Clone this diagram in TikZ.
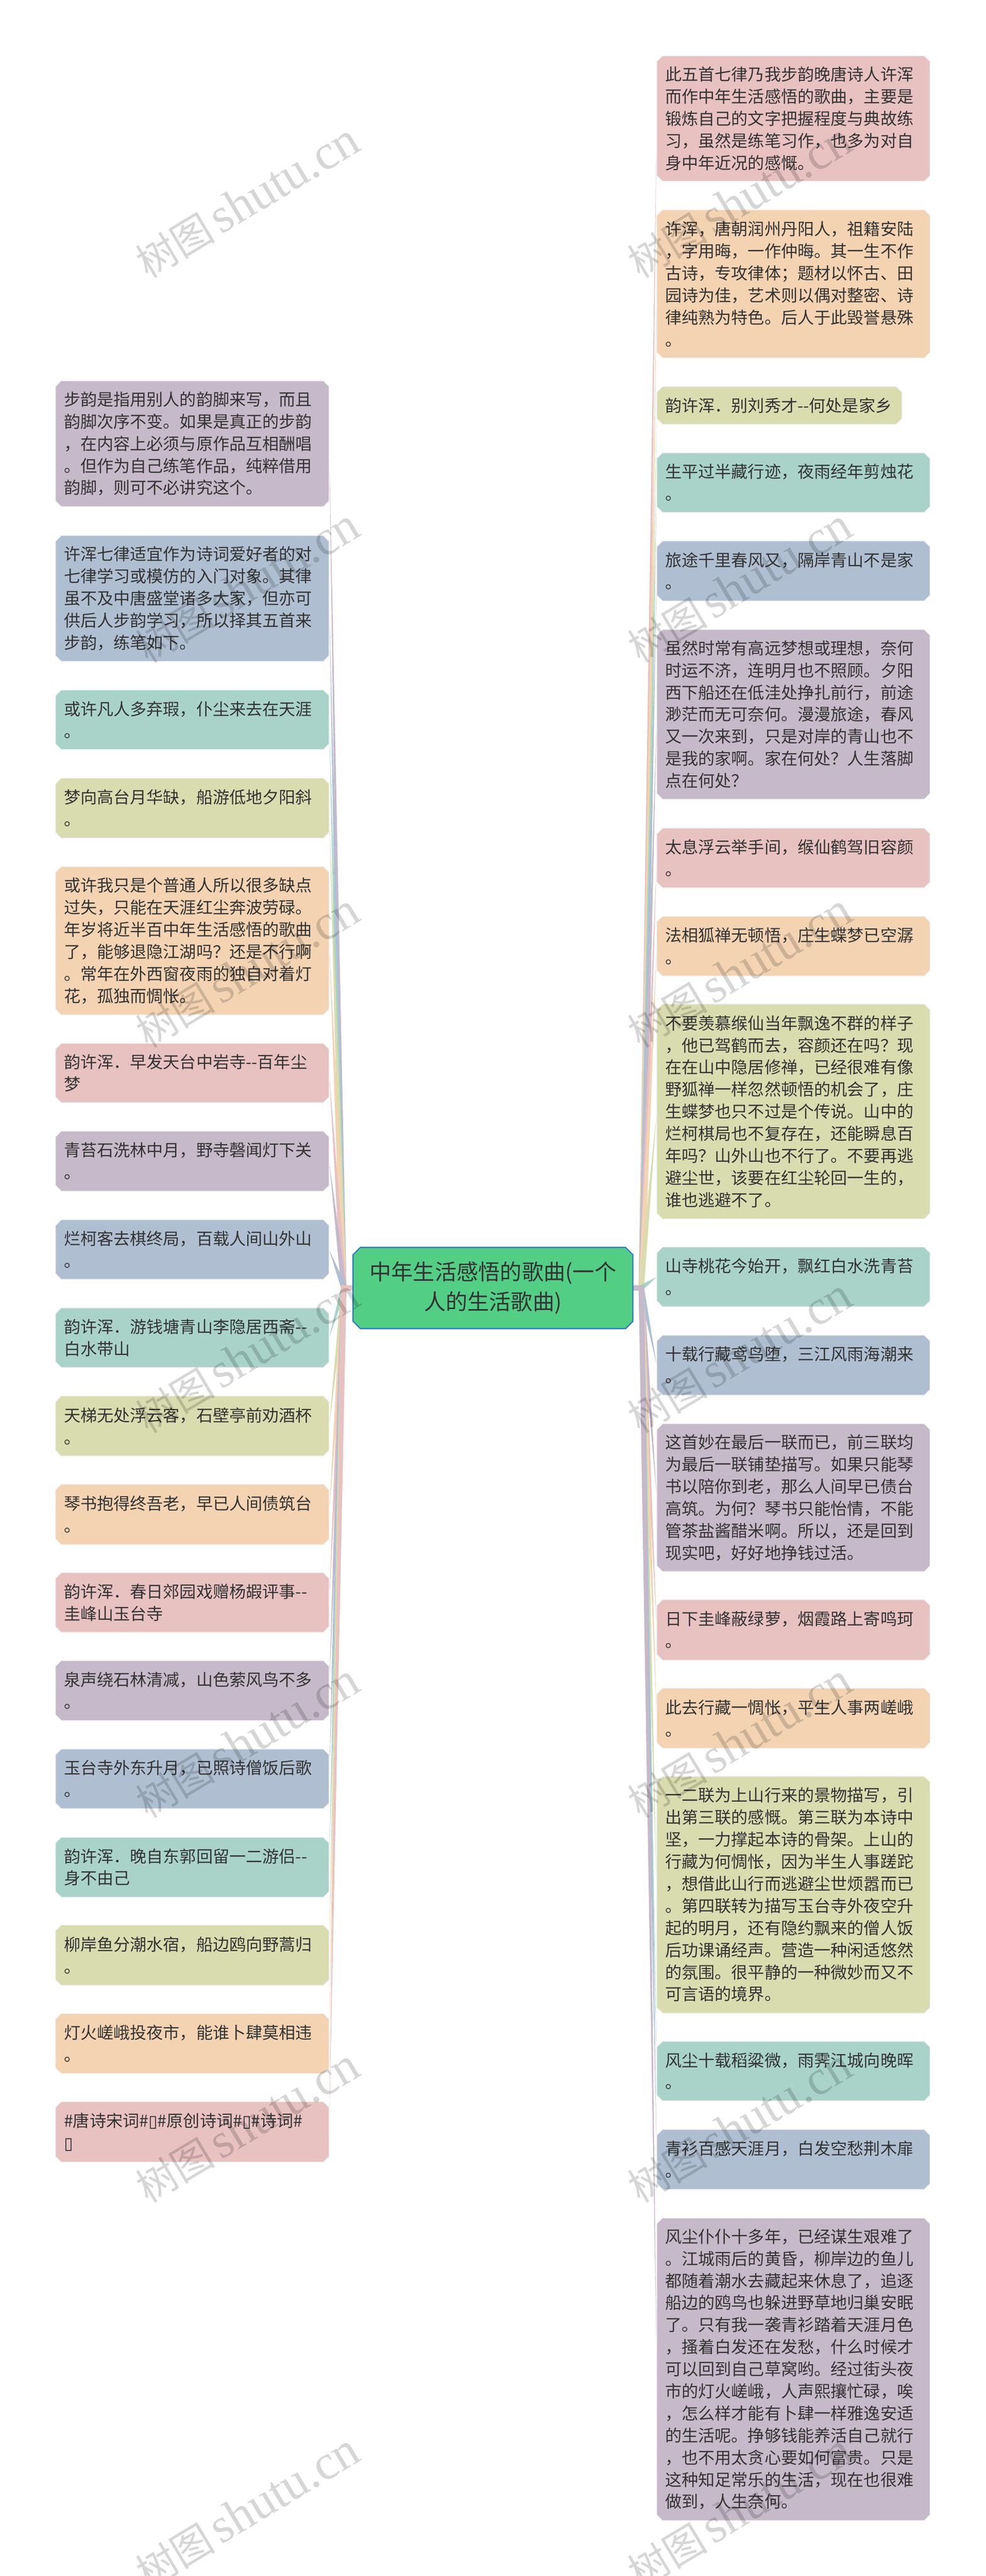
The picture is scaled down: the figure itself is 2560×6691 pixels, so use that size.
\documentclass[tikz,border=0pt]{standalone}
\usepackage{fontspec}
\usetikzlibrary{calc}
\setmainfont{Noto Sans CJK SC}
\newfontfamily\wmserif{Liberation Serif}
\newfontfamily\tofufont{DejaVu Sans}
\definecolor{cpink}{RGB}{232,193,193}
\definecolor{cpeach}{RGB}{243,211,178}
\definecolor{colive}{RGB}{217,220,175}
\definecolor{cteal}{RGB}{169,211,201}
\definecolor{cblue}{RGB}{175,191,209}
\definecolor{cpurple}{RGB}{198,185,201}
\definecolor{cgreen}{RGB}{83,206,133}
\definecolor{cedge}{RGB}{43,120,200}
\definecolor{ctext}{RGB}{51,51,51}
\pgfdeclarelayer{bg}
\pgfsetlayers{bg,main}
\tikzset{
  leafshape/.style={draw=black!6,line width=2pt,line join=round},
  leaftext/.style={rectangle,outer sep=0pt,inner xsep=22pt,inner ysep=0pt,align=left,text=ctext,
    font=\fontsize{43}{57.4}\selectfont},
  watermark/.style={rotate=31,text=black,text opacity=0.16,inner sep=0pt}
}
\newcommand\bx[7]{%
  \pgfmathsetmacro\tw{#5-#3-44}%
  \pgfmathsetmacro\bw{#5-#3}%
  \pgfmathsetmacro\bh{#6-#4}%
  \path[leafshape,fill=#2] ({#3+15},#4)--({#5-15},#4)--(#5,{#4+15})--(#5,{#6-15})--({#5-15},#6)--({#3+15},#6)--(#3,{#6-15})--(#3,{#4+15})--cycle;
  \node[leaftext,anchor=north west,text width=\tw pt,minimum width=\bw pt,minimum height=\bh pt] (#1) at (#3,#4) {#7};
}
\newcommand\conn[3]{\fill[#3] ($(#1)!7pt!90:(#2)$) -- (#2) -- ($(#1)!7pt!-90:(#2)$) -- cycle;}
\newcommand\tofu{{\tofufont ▯}}
\begin{document}
\begin{tikzpicture}[x=1pt,y=-1pt]
\useasboundingbox (0,0) rectangle (2560,6691);
\begin{pgfonlayer}{bg}
\fill[white] (0,0) rectangle (2560,6691);
\end{pgfonlayer}
% centre
\path[draw=cedge,line width=3pt,fill=cgreen,line join=round] (936,3240)--(1625,3240)--(1644,3259)--(1644,3432)--(1625,3451)--(936,3451)--(917,3432)--(917,3259)--cycle;
\node[rectangle,outer sep=0pt,inner sep=0pt,align=center,minimum width=727pt,minimum height=211pt,text=ctext,font=\fontsize{56.5}{78}\selectfont,anchor=north west] (central) at (917,3240) {中年生活感悟的歌曲(一个\\人的生活歌曲)};
% left
\def\lx{144}\def\lr{855}
\bx{l1}{cpurple}{\lx}{989}{\lr}{1316}{步韵是指用别人的韵脚来写，而且\\韵脚次序不变。如果是真正的步韵\\，在内容上必须与原作品互相酬唱\\。但作为自己练笔作品，纯粹借用\\韵脚，则可不必讲究这个。}
\bx{l2}{cblue}{\lx}{1391}{\lr}{1718}{许浑七律适宜作为诗词爱好者的对\\七律学习或模仿的入门对象。其律\\虽不及中唐盛堂诸多大家，但亦可\\供后人步韵学习，所以择其五首来\\步韵，练笔如下。}
\bx{l3}{cteal}{\lx}{1792}{\lr}{1947}{或许凡人多弃瑕，仆尘来去在天涯\\。}
\bx{l4}{colive}{\lx}{2021}{\lr}{2177}{梦向高台月华缺，船游低地夕阳斜\\。}
\bx{l5}{cpeach}{\lx}{2251}{\lr}{2636}{或许我只是个普通人所以很多缺点\\过失，只能在天涯红尘奔波劳碌。\\年岁将近半百中年生活感悟的歌曲\\了，能够退隐江湖吗？还是不行啊\\。常年在外西窗夜雨的独自对着灯\\花，孤独而惆怅。}
\bx{l6}{cpink}{\lx}{2710}{\lr}{2864}{韵许浑．早发天台中岩寺-{}-百年尘\\梦}
\bx{l7}{cpurple}{\lx}{2938}{\lr}{3094}{青苔石洗林中月，野寺磬闻灯下关\\。}
\bx{l8}{cblue}{\lx}{3168}{\lr}{3323}{烂柯客去棋终局，百载人间山外山\\。}
\bx{l9}{cteal}{\lx}{3397}{\lr}{3552}{韵许浑．游钱塘青山李隐居西斋-{}-\\白水带山}
\bx{l10}{colive}{\lx}{3626}{\lr}{3782}{天梯无处浮云客，石壁亭前劝酒杯\\。}
\bx{l11}{cpeach}{\lx}{3855}{\lr}{4012}{琴书抱得终吾老，早已人间债筑台\\。}
\bx{l12}{cpink}{\lx}{4085}{\lr}{4240}{韵许浑．春日郊园戏赠杨嘏评事-{}-\\圭峰山玉台寺}
\bx{l13}{cpurple}{\lx}{4313}{\lr}{4469}{泉声绕石林清减，山色萦风鸟不多\\。}
\bx{l14}{cblue}{\lx}{4543}{\lr}{4698}{玉台寺外东升月，已照诗僧饭后歌\\。}
\bx{l15}{cteal}{\lx}{4772}{\lr}{4928}{韵许浑．晚自东郭回留一二游侣-{}-\\身不由己}
\bx{l16}{colive}{\lx}{5000}{\lr}{5157}{柳岸鱼分潮水宿，船边鸥向野蒿归\\。}
\bx{l17}{cpeach}{\lx}{5230}{\lr}{5386}{灯火嵯峨投夜市，能谁卜肆莫相违\\。}
\bx{l18}{cpink}{\lx}{5459}{\lr}{5616}{\#唐诗宋词\#\tofu\#原创诗词\#\tofu\#诗词\#\\\tofu}
% right
\def\rx{1706}\def\rr{2416}
\bx{r1}{cpink}{\rx}{145}{\rr}{471}{此五首七律乃我步韵晚唐诗人许浑\\而作中年生活感悟的歌曲，主要是\\锻炼自己的文字把握程度与典故练\\习，虽然是练笔习作，也多为对自\\身中年近况的感慨。}
\bx{r2}{cpeach}{\rx}{545}{\rr}{930}{许浑，唐朝润州丹阳人，祖籍安陆\\，字用晦，一作仲晦。其一生不作\\古诗，专攻律体；题材以怀古、田\\园诗为佳，艺术则以偶对整密、诗\\律纯熟为特色。后人于此毁誉悬殊\\。}
\bx{r3}{colive}{\rx}{1004}{2343}{1102}{韵许浑．别刘秀才-{}-何处是家乡}
\bx{r4}{cteal}{\rx}{1176}{\rr}{1331}{生平过半藏行迹，夜雨经年剪烛花\\。}
\bx{r5}{cblue}{\rx}{1405}{\rr}{1561}{旅途千里春风又，隔岸青山不是家\\。}
\bx{r6}{cpurple}{\rx}{1635}{\rr}{2076}{虽然时常有高远梦想或理想，奈何\\时运不济，连明月也不照顾。夕阳\\西下船还在低洼处挣扎前行，前途\\渺茫而无可奈何。漫漫旅途，春风\\又一次来到，只是对岸的青山也不\\是我的家啊。家在何处？人生落脚\\点在何处？}
\bx{r7}{cpink}{\rx}{2151}{\rr}{2306}{太息浮云举手间，缑仙鹤驾旧容颜\\。}
\bx{r8}{cpeach}{\rx}{2380}{\rr}{2535}{法相狐禅无顿悟，庄生蝶梦已空潺\\。}
\bx{r9}{colive}{\rx}{2608}{\rr}{3166}{不要羡慕缑仙当年飘逸不群的样子\\，他已驾鹤而去，容颜还在吗？现\\在在山中隐居修禅，已经很难有像\\野狐禅一样忽然顿悟的机会了，庄\\生蝶梦也只不过是个传说。山中的\\烂柯棋局也不复存在，还能瞬息百\\年吗？山外山也不行了。不要再逃\\避尘世，该要在红尘轮回一生的，\\谁也逃避不了。}
\bx{r10}{cteal}{\rx}{3239}{\rr}{3394}{山寺桃花今始开，飘红白水洗青苔\\。}
\bx{r11}{cblue}{\rx}{3468}{\rr}{3624}{十载行藏鸢鸟堕，三江风雨海潮来\\。}
\bx{r12}{cpurple}{\rx}{3698}{\rr}{4082}{这首妙在最后一联而已，前三联均\\为最后一联铺垫描写。如果只能琴\\书以陪你到老，那么人间早已债台\\高筑。为何？琴书只能怡情，不能\\管茶盐酱醋米啊。所以，还是回到\\现实吧，好好地挣钱过活。}
\bx{r13}{cpink}{\rx}{4155}{\rr}{4312}{日下圭峰蔽绿萝，烟霞路上寄鸣珂\\。}
\bx{r14}{cpeach}{\rx}{4385}{\rr}{4541}{此去行藏一惆怅，平生人事两嵯峨\\。}
\bx{r15}{colive}{\rx}{4614}{\rr}{5229}{一二联为上山行来的景物描写，引\\出第三联的感慨。第三联为本诗中\\坚，一力撑起本诗的骨架。上山的\\行藏为何惆怅，因为半生人事蹉跎\\，想借此山行而逃避尘世烦嚣而已\\。第四联转为描写玉台寺外夜空升\\起的明月，还有隐约飘来的僧人饭\\后功课诵经声。营造一种闲适悠然\\的氛围。很平静的一种微妙而又不\\可言语的境界。}
\bx{r16}{cteal}{\rx}{5302}{\rr}{5457}{风尘十载稻粱微，雨霁江城向晚晖\\。}
\bx{r17}{cblue}{\rx}{5531}{\rr}{5687}{青衫百感天涯月，白发空愁荆木扉\\。}
\bx{r18}{cpurple}{\rx}{5761}{\rr}{6547}{风尘仆仆十多年，已经谋生艰难了\\。江城雨后的黄昏，柳岸边的鱼儿\\都随着潮水去藏起来休息了，追逐\\船边的鸥鸟也躲进野草地归巢安眠\\了。只有我一袭青衫踏着天涯月色\\，搔着白发还在发愁，什么时候才\\可以回到自己草窝哟。经过街头夜\\市的灯火嵯峨，人声熙攘忙碌，唉\\，怎么样才能有卜肆一样雅逸安适\\的生活呢。挣够钱能养活自己就行\\，也不用太贪心要如何富贵。只是\\这种知足常乐的生活，现在也很难\\做到，人生奈何。}
% connectors
\coordinate (ro) at (1666,3345);
\coordinate (lo) at (893,3345);
\coordinate (rs) at (1673,3345);
\coordinate (ls) at (886,3345);
\begin{pgfonlayer}{bg}
\foreach \n/\c in {1/cpink,2/cpeach,3/colive,4/cteal,5/cblue,6/cpurple,7/cpink,8/cpeach,9/colive,10/cteal,11/cblue,12/cpurple,13/cpink,14/cpeach,15/colive,16/cteal,17/cblue,18/cpurple}{
  \conn{ro}{r\n.west}{\c}
}
\foreach \n/\c in {1/cpurple,2/cblue,3/cteal,4/colive,5/cpeach,6/cpink,7/cpurple,8/cblue,9/cteal,10/colive,11/cpeach,12/cpink,13/cpurple,14/cblue,15/cteal,16/colive,17/cpeach,18/cpink}{
  \conn{lo}{l\n.east}{\c}
}
\draw[cpurple,line width=14pt] (central.east) -- (rs);
\draw[cpink,line width=14pt] (central.west) -- (ls);
\end{pgfonlayer}
% watermarks
\foreach \i in {0,...,6}{
  \foreach \j in {0,1}{
    \node[watermark] (wm\i\j) at ({643+1279*\j},{522+1000*\i}) {\fontsize{104}{104}\selectfont 树图\hspace{14pt}{\wmserif\fontsize{128}{128}\selectfont shutu.cn}};
  }
}
\end{tikzpicture}
\end{document}
